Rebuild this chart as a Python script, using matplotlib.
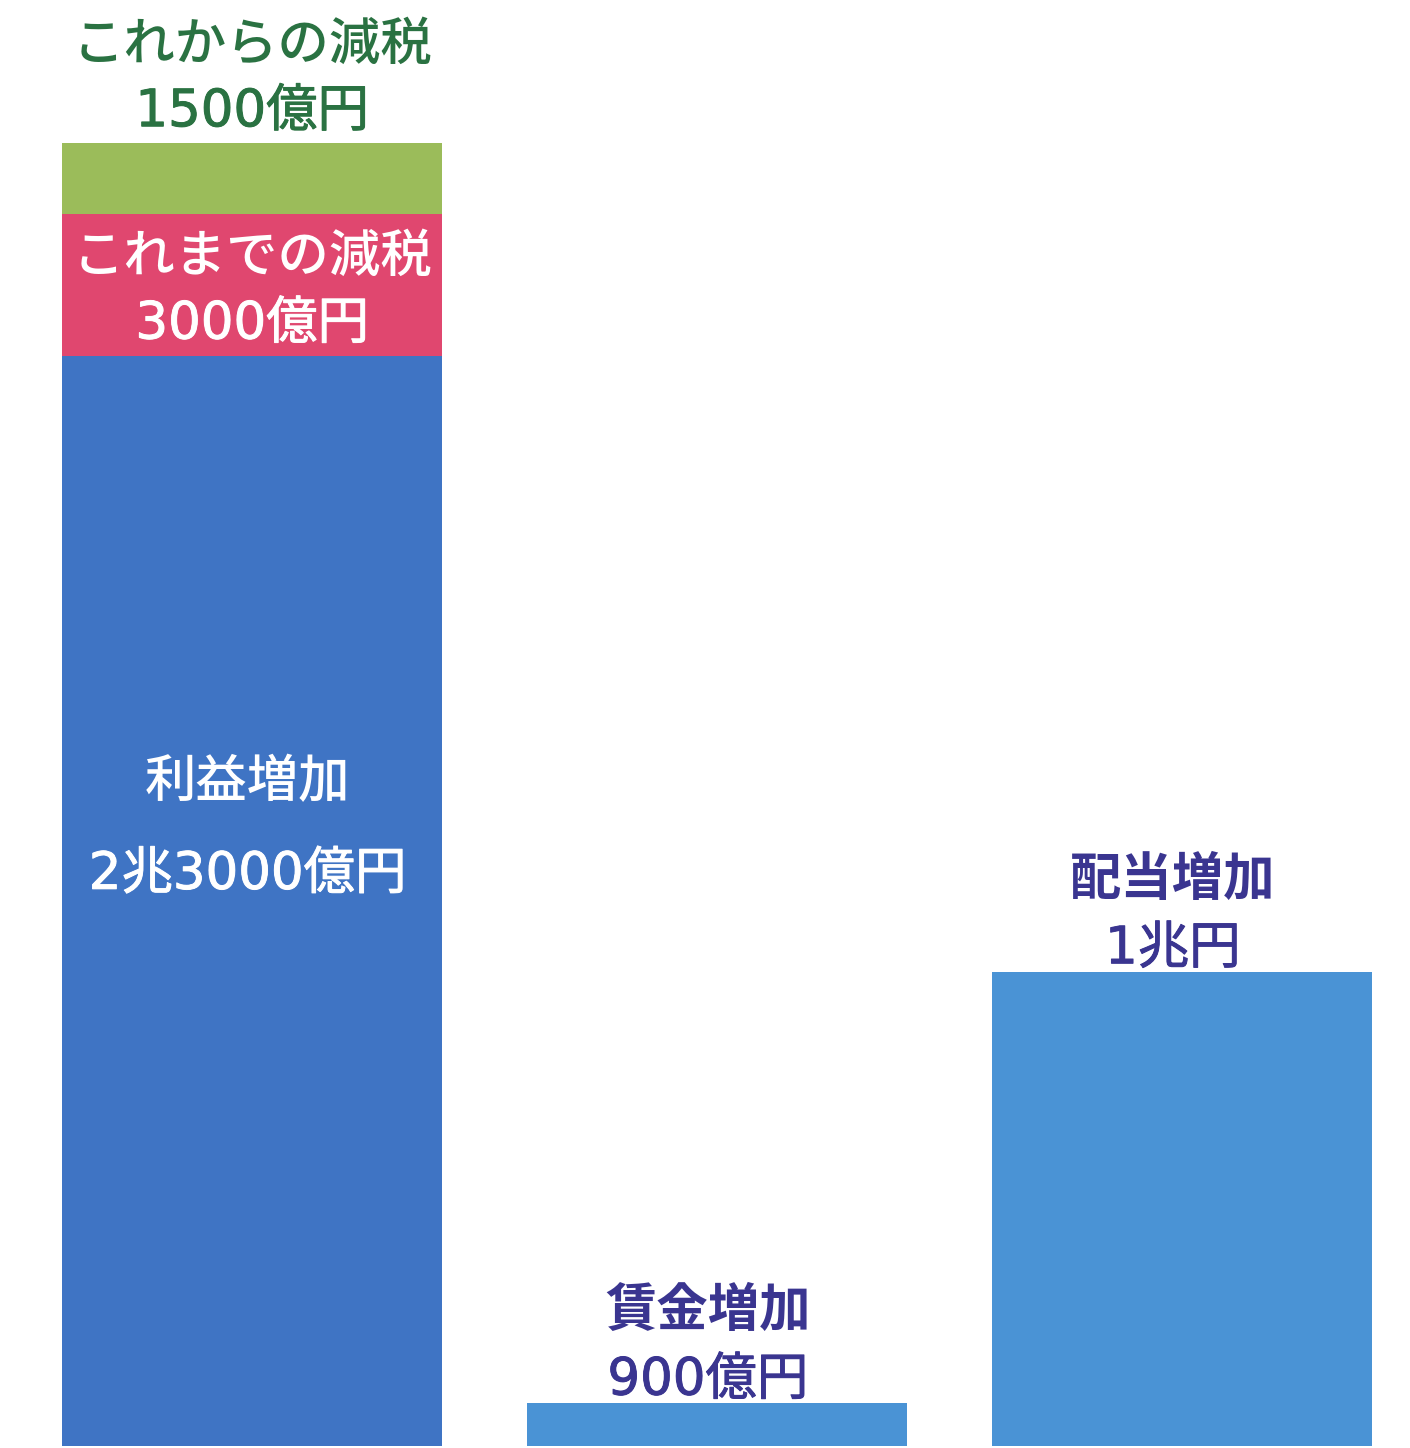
import matplotlib
matplotlib.use("Agg")
import matplotlib.pyplot as plt
import matplotlib.patheffects as pe

plt.rcParams['font.family'] = ['Noto Sans CJK JP', 'DejaVu Sans']

# 単位: 億円
categories = ["利益", "賃金増加", "配当増加"]
profit_increase = [23000, 0, 0]
past_tax_cut = [3000, 0, 0]
future_tax_cut = [1500, 0, 0]
other_values = [0, 900, 10000]

labels_profit = ("利益増加", "2兆3000億円")
labels_past = ("これまでの減税", "3000億円")
labels_future = ("これからの減税", "1500億円")
labels_wage = ("賃金増加", "900億円")
labels_dividend = ("配当増加", "1兆円")

fig = plt.figure(figsize=(14.10, 14.48), dpi=100)
ax = fig.add_axes([0, 0, 1, 1])

x = [0, 1, 2]
w = 0.817
c_profit = "#3f74c4"
c_past = "#e0476f"
c_future = "#9bbc5a"
c_other = "#4a93d5"
c_green_txt = "#2a7242"
c_navy_txt = "#3a3590"

ax.bar(x[0], profit_increase[0], width=w, color=c_profit)
ax.bar(x[0], past_tax_cut[0], width=w, bottom=profit_increase[0], color=c_past)
ax.bar(x[0], future_tax_cut[0], width=w,
       bottom=profit_increase[0] + past_tax_cut[0], color=c_future)
ax.bar(x[1:], other_values[1:], width=w, color=c_other)

fs = 37
num_family = ['DejaVu Sans', 'Noto Sans CJK JP']


def label(xv, yv, s, color, weight="medium", numeric=False):
    kw = dict(ha="center", va="center", fontsize=fs, color=color)
    if numeric:
        kw["family"] = num_family
        kw["fontweight"] = "normal"
        # 数字を少し太く見せる
        kw["path_effects"] = [pe.withStroke(linewidth=0.7, foreground=color)]
    else:
        kw["fontweight"] = weight
    ax.text(xv, yv, s, **kw)


# 利益増加 (棒の中)
label(x[0] - 0.01, 14000, labels_profit[0], "white")
label(x[0] - 0.01, 12050, labels_profit[1], "white", numeric=True)
# これまでの減税 (棒の中)
y_past = profit_increase[0] + past_tax_cut[0] / 2
label(x[0], y_past + 580, labels_past[0], "white")
label(x[0], y_past - 840, labels_past[1], "white", numeric=True)
# これからの減税 (棒の上)
top0 = profit_increase[0] + past_tax_cut[0] + future_tax_cut[0]
label(x[0], top0 + 2060, labels_future[0], c_green_txt)
label(x[0], top0 + 640, labels_future[1], c_green_txt, numeric=True)
# 賃金増加・配当増加 (棒の上)
for xi, val, (l1, l2) in [(x[1], other_values[1], labels_wage),
                          (x[2], other_values[2], labels_dividend)]:
    label(xi - 0.02, val + 1950, l1, c_navy_txt, weight="bold")
    label(xi - 0.02, val + 480, l2, c_navy_txt, numeric=True)

ax.set_xlim(-0.542, 2.490)
ax.set_ylim(-42, 30507)
ax.axis("off")

fig.savefig("out.png", dpi=100, facecolor="white")
